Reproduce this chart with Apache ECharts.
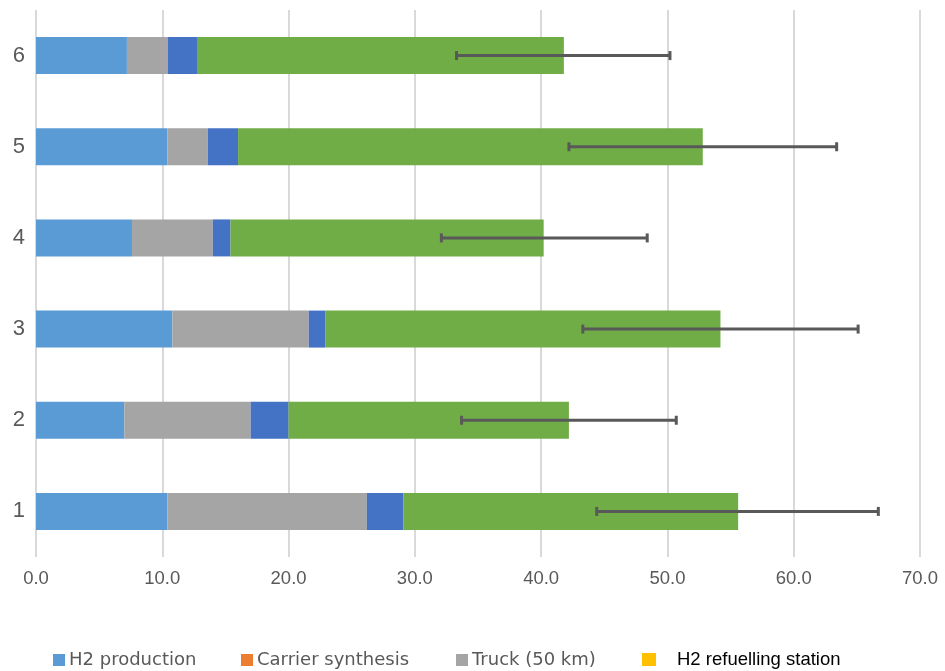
<!DOCTYPE html>
<html>
<head>
<meta charset="utf-8">
<script src="https://cdn.jsdelivr.net/npm/echarts@6/dist/echarts.min.js"></script>
<style>
  html, body { margin: 0; padding: 0; background: #fff; }
  #chart { width: 945px; height: 671px; }
</style>
</head>
<body>
<div id="chart"></div>
<script>
    // categories, bottom to top
    var categories = ['1', '2', '3', '4', '5', '6'];
    var h2Production = [10.4, 7.0, 10.8, 7.6, 10.4, 7.2];
    var carrierSynthesis = [0, 0, 0, 0, 0, 0];
    var truck = [15.8, 10.0, 10.8, 6.4, 3.2, 3.25];
    var stage4 = [2.9, 3.0, 1.3, 1.4, 2.4, 2.3];
    var stage5 = [26.5, 22.2, 31.3, 24.8, 36.8, 29.05];
    var refuelling = [0, 0, 0, 0, 0, 0];
    var errLow = [44.4, 33.7, 43.3, 32.1, 42.2, 33.3];
    var errHigh = [66.7, 50.7, 65.1, 48.4, 63.4, 50.2];

    var chart = echarts.init(document.getElementById('chart'));

    function legendItem(name, left, last) {
        var l = {
            data: [name],
            left: left,
            top: 646,
            icon: 'rect',
            itemWidth: 12,
            itemHeight: 12,
            selectedMode: false,
            textStyle: {
                fontFamily: 'DejaVu Sans',
                fontSize: 18,
                color: '#595959',
                padding: [0, 0, 0, -1]
            }
        };
        if (last) {
            l.top = 645;
            l.itemWidth = 14;
            l.itemHeight = 13;
            l.textStyle.fontFamily = 'Liberation Sans';
            l.textStyle.fontSize = 18.5;
            l.textStyle.color = '#000';
            l.textStyle.padding = [0, 0, 0, 16];
        }
        return l;
    }

    function barSeries(name, data, color) {
        return {
            name: name,
            type: 'bar',
            stack: 'total',
            barWidth: 37,
            itemStyle: { color: color },
            data: data
        };
    }

    var errData = categories.map(function (c, i) {
        return [i, errLow[i], errHigh[i]];
    });

    var option = {
        animation: false,
        backgroundColor: '#fff',
        grid: { left: 36, right: 25, top: 10, bottom: 114 },
        legend: [
            legendItem('H2 production', 48),
            legendItem('Carrier synthesis', 236),
            legendItem('Truck (50 km)', 451),
            legendItem('H2 refuelling station', 637, true)
        ],
        xAxis: {
            type: 'value',
            min: 0,
            max: 70,
            interval: 10,
            axisLine: { show: false },
            axisTick: { show: false },
            axisLabel: {
                fontFamily: 'Liberation Sans',
                fontSize: 18.5,
                color: '#595959',
                margin: 12,
                formatter: function (v) { return v.toFixed(1); }
            },
            splitLine: { lineStyle: { color: '#d9d9d9', width: 2 } }
        },
        yAxis: {
            type: 'category',
            data: categories,
            axisLine: { show: false },
            axisTick: { show: false },
            axisLabel: {
                fontFamily: 'Liberation Sans',
                fontSize: 22,
                color: '#595959',
                margin: 11
            }
        },
        series: [
            barSeries('H2 production', h2Production, '#5B9BD5'),
            barSeries('Carrier synthesis', carrierSynthesis, '#ED7D31'),
            barSeries('Truck (50 km)', truck, '#A5A5A5'),
            barSeries('Stage 4', stage4, '#4472C4'),
            barSeries('Stage 5', stage5, '#70AD47'),
            barSeries('H2 refuelling station', refuelling, '#FFC000'),
            {
                type: 'custom',
                name: 'error',
                z: 10,
                encode: { x: [1, 2], y: 0 },
                data: errData,
                renderItem: function (params, api) {
                    var lo = api.coord([api.value(1), api.value(0)]);
                    var hi = api.coord([api.value(2), api.value(0)]);
                    var h = 4.5;
                    var style = { stroke: '#595959', lineWidth: 3 };
                    return {
                        type: 'group',
                        children: [
                            { type: 'line', shape: { x1: lo[0], y1: lo[1], x2: hi[0], y2: hi[1] }, style: style },
                            { type: 'line', shape: { x1: lo[0], y1: lo[1] - h, x2: lo[0], y2: lo[1] + h }, style: style },
                            { type: 'line', shape: { x1: hi[0], y1: hi[1] - h, x2: hi[0], y2: hi[1] + h }, style: style }
                        ]
                    };
                }
            }
        ]
    };
    chart.setOption(option);
</script>
</body>
</html>
